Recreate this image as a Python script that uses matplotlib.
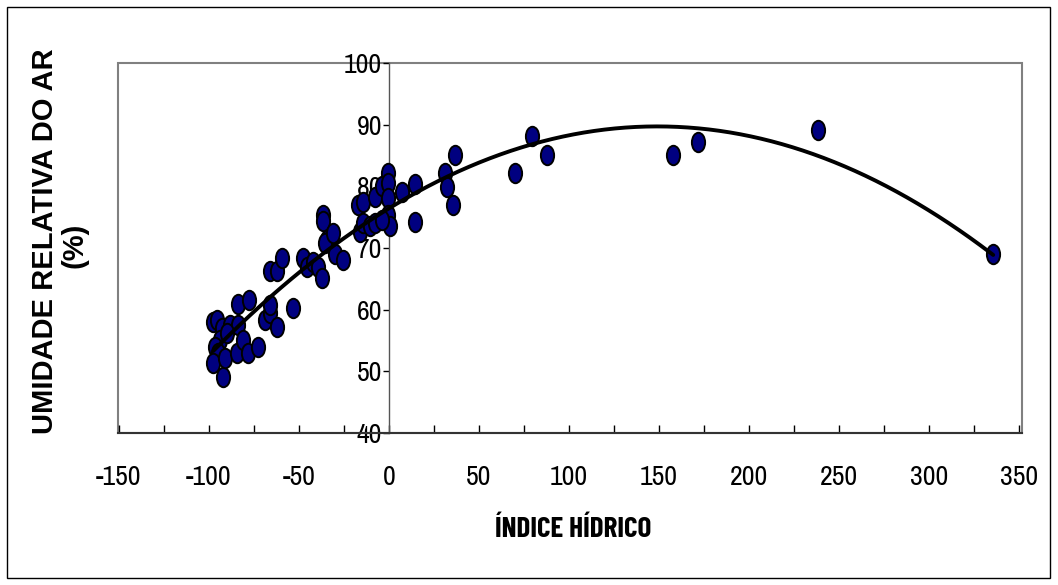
import numpy as np
import matplotlib
matplotlib.use("Agg")
import matplotlib.pyplot as plt
from matplotlib.path import Path
from matplotlib.transforms import Affine2D
from matplotlib.patches import Rectangle
from matplotlib.ticker import MultipleLocator

# data
indice_hidrico = [
    -97.6, -95.7, -93.0, -88.3, -83.7, -93.9, -90.2, -96.7, -94.8, -97.6,
    -92.0, -91.1, -84.6, -80.9, -78.2, -72.6, -83.7, -78.0, -68.9, -66.1,
    -62.4, -66.1, -53.1, -66.1, -62.4, -59.6, -47.6, -45.7, -42.1, -39.3,
    -37.4, -36.5, -36.5, -34.6, -35.6, -30.9, -30.0, -25.4, -17.0, -14.3,
    -7.8, -4.1, -0.4, -0.4, -0.4, -0.4, 0.6, -16.1, -14.3, -10.6,
    -7.8, -4.1, 7.0, 14.4, 14.4, 31.1, 32.0, 35.7, 36.7, 70.0,
    79.3, 87.6, 158.0, 171.8, 238.5, 335.7,
]
umidade = [
    58.0, 58.3, 57.0, 57.5, 57.5, 55.1, 56.2, 54.0, 52.9, 51.3,
    49.1, 52.1, 52.9, 55.1, 52.9, 54.0, 61.0, 61.5, 58.3, 59.4,
    57.2, 60.8, 60.2, 66.2, 66.2, 68.3, 68.3, 67.0, 67.8, 67.0,
    65.1, 75.4, 74.3, 71.3, 70.8, 72.4, 69.1, 68.1, 77.0, 77.5,
    78.2, 80.0, 82.2, 80.5, 78.1, 75.3, 73.5, 72.6, 74.0, 73.5,
    74.0, 74.5, 79.1, 80.3, 74.2, 82.2, 79.9, 77.0, 85.1, 82.1,
    88.1, 85.1, 85.1, 87.2, 89.1, 69.1,
]

x = np.array(indice_hidrico)
y = np.array(umidade)

# polynomial (2nd order) trendline, like the Excel one
coef = np.polyfit(x, y, 2)
xt = np.linspace(x.min(), x.max(), 300)
yt = np.polyval(coef, xt)

plt.rcParams["axes.unicode_minus"] = False

W, H = 1058, 585
fig = plt.figure(figsize=(W / 100, H / 100), dpi=100)
fig.patch.set_facecolor("white")

# outer chart border
fig.patches.append(Rectangle((7 / W, 1 - 578 / H), (1050 - 7) / W, (578 - 7) / H,
                             transform=fig.transFigure, fill=False,
                             edgecolor="black", lw=1.0))

ax = fig.add_axes([118 / W, 1 - 433 / H, (1022 - 118) / W, (433 - 63) / H])

# ellipse marker (taller than wide)
ell = Path.unit_circle().transformed(Affine2D().scale(0.68, 1.0))

ax.plot(x, y, linestyle="none", marker=ell, markersize=14,
        markerfacecolor="#000080", markeredgecolor="black",
        markeredgewidth=1.4, zorder=3)
ax.plot(xt, yt, color="black", lw=2.8, zorder=4, solid_capstyle="round")

ax.set_xlim(-150.5, 351.7)
ax.set_ylim(40, 100)

# grey plot-area box
ax.add_patch(Rectangle((0, 0), 1, 1, transform=ax.transAxes, fill=False,
                       edgecolor="#808080", lw=1.5, zorder=1, clip_on=False))
for s in ["top", "right"]:
    ax.spines[s].set_visible(False)
ax.spines["left"].set_position(("data", 0))
ax.spines["left"].set_color("#555555")
ax.spines["left"].set_linewidth(1.0)
ax.spines["bottom"].set_color("#333333")
ax.spines["bottom"].set_linewidth(1.5)

ax.xaxis.set_major_locator(MultipleLocator(50))
ax.xaxis.set_minor_locator(MultipleLocator(25))
ax.yaxis.set_major_locator(MultipleLocator(10))

tick_font = ["Archivo Narrow", "Liberation Sans", "DejaVu Sans"]
ax.tick_params(axis="x", which="both", direction="in", length=6, width=1,
               pad=23, labelsize=20)
ax.tick_params(axis="y", direction="out", length=4, width=1, pad=1,
               labelsize=20)
for lab in ax.get_xticklabels() + ax.get_yticklabels():
    lab.set_family(tick_font)

fig.text(45 / W, 1 - 241 / H, "UMIDADE RELATIVA DO AR", rotation=90,
         ha="center", va="center", fontsize=21, fontweight="bold",
         family=["Liberation Sans", "DejaVu Sans"])
fig.text(75 / W, 1 - 245 / H, "(%)", rotation=90,
         ha="center", va="center", fontsize=21, fontweight="bold",
         family=["Liberation Sans", "DejaVu Sans"])
fig.text(573 / W, 1 - 529 / H, "ÍNDICE HÍDRICO", ha="center", va="center",
         fontsize=21, fontweight="bold",
         family=["Barlow Condensed", "Liberation Sans", "DejaVu Sans"])

fig.savefig("out.png", dpi=100)
